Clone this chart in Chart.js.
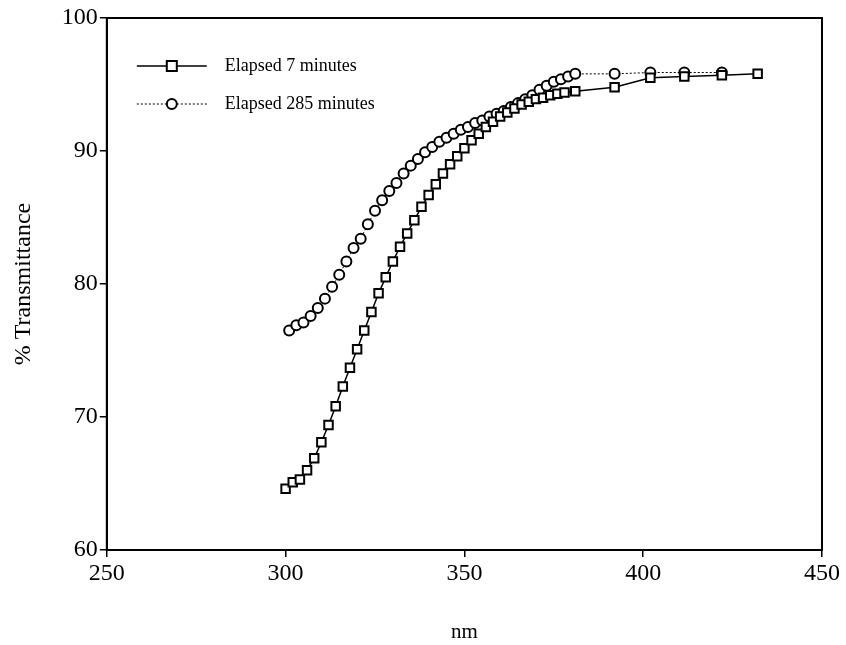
<!DOCTYPE html>
<html lang="en">
<head>
<meta charset="UTF-8">
<title>% Transmittance vs nm</title>
<script src="https://cdn.jsdelivr.net/npm/chart.js@4.4.0/dist/chart.umd.min.js"></script>
<style>
    html, body { margin: 0; padding: 0; background: #fff; }
    #wrap { width: 846px; height: 645px; }
</style>
</head>
<body>
<div id="wrap"><canvas id="chart" width="846" height="645"></canvas></div>

<script>
// Elapsed 7 minutes (squares)
const nm7 = [300, 302, 304, 306, 308, 310, 312, 314, 316, 318,
             320, 322, 324, 326, 328, 330, 332, 334, 336, 338,
             340, 342, 344, 346, 348, 350, 352, 354, 356, 358,
             360, 362, 364, 366, 368, 370, 372, 374, 376, 378,
             381, 392, 402, 411.5, 422, 432];
const trans7 = [64.6, 65.1, 65.3, 66.0, 66.9, 68.1, 69.4, 70.8, 72.3, 73.7,
                75.1, 76.5, 77.9, 79.3, 80.5, 81.7, 82.8, 83.8, 84.8, 85.8,
                86.7, 87.5, 88.3, 89.0, 89.6, 90.2, 90.8, 91.3, 91.8, 92.2,
                92.6, 92.9, 93.2, 93.5, 93.7, 93.9, 94.0, 94.2, 94.3, 94.4,
                94.5, 94.8, 95.5, 95.6, 95.7, 95.8];

// Elapsed 285 minutes (circles)
const nm285 = [301, 303, 305, 307, 309, 311, 313, 315, 317, 319,
               321, 323, 325, 327, 329, 331, 333, 335, 337, 339,
               341, 343, 345, 347, 349, 351, 353, 355, 357, 359,
               361, 363, 365, 367, 369, 371, 373, 375, 377, 379,
               381, 392, 402, 411.5, 422];
const trans285 = [76.5, 76.9, 77.1, 77.6, 78.2, 78.9, 79.8, 80.7, 81.7, 82.7,
                  83.4, 84.5, 85.5, 86.3, 87.0, 87.6, 88.3, 88.9, 89.4, 89.9,
                  90.3, 90.7, 91.0, 91.3, 91.6, 91.8, 92.1, 92.3, 92.6, 92.8,
                  93.0, 93.3, 93.6, 93.9, 94.2, 94.6, 94.9, 95.2, 95.4, 95.6,
                  95.8, 95.8, 95.9, 95.9, 95.9];

const xTicks = [250, 300, 350, 400, 450];
const yTicks = [60, 70, 80, 90, 100];

const seriesLabels = ['Elapsed 7 minutes', 'Elapsed 285 minutes'];

const FONT = '"Liberation Serif", "DejaVu Serif", serif';

function toPoints(xs, ys) {
    return xs.map((x, i) => ({ x: x, y: ys[i] }));
}

// frame around the plot + legend drawn inside the plot area
const framePlugin = {
    id: 'frame',
    afterDraw(chart) {
        const ctx = chart.ctx;
        const a = chart.chartArea;
        ctx.save();
        ctx.strokeStyle = '#000';
        ctx.lineWidth = 2;
        ctx.strokeRect(a.left, a.top, a.right - a.left, a.bottom - a.top);

        // legend
        const ds = chart.data.datasets;
        const x0 = a.left + 30, x1 = a.left + 100;
        ds.forEach((d, i) => {
            const y = a.top + 48 + i * 38;
            ctx.beginPath();
            ctx.setLineDash(d.borderDash || []);
            ctx.lineWidth = d.borderWidth;
            ctx.strokeStyle = '#000';
            ctx.moveTo(x0, y);
            ctx.lineTo(x1, y);
            ctx.stroke();
            ctx.setLineDash([]);
            ctx.fillStyle = '#fff';
            ctx.lineWidth = 2;
            const mx = (x0 + x1) / 2;
            if (d.pointStyle === 'rect') {
                ctx.fillRect(mx - 5, y - 5, 10, 10);
                ctx.strokeRect(mx - 5, y - 5, 10, 10);
            } else {
                ctx.beginPath();
                ctx.arc(mx, y, 5, 0, Math.PI * 2);
                ctx.fill();
                ctx.stroke();
            }
            ctx.fillStyle = '#000';
            ctx.font = '18px ' + FONT;
            ctx.textBaseline = 'middle';
            ctx.textAlign = 'left';
            ctx.fillText(d.label, x1 + 18, y);
        });
        ctx.restore();
    }
};

new Chart(document.getElementById('chart').getContext('2d'), {
    type: 'scatter',
    data: {
        datasets: [{
            label: seriesLabels[0],
            data: toPoints(nm7, trans7),
            showLine: true,
            borderColor: '#000',
            borderWidth: 1.5,
            pointStyle: 'rect',
            pointRadius: 6,
            pointBorderWidth: 2,
            pointBackgroundColor: '#fff',
            pointBorderColor: '#000'
        }, {
            label: seriesLabels[1],
            data: toPoints(nm285, trans285),
            showLine: true,
            borderColor: '#000',
            borderWidth: 1,
            borderDash: [2, 2],
            pointStyle: 'circle',
            pointRadius: 5,
            pointBorderWidth: 2,
            pointBackgroundColor: '#fff',
            pointBorderColor: '#000'
        }]
    },
    options: {
        responsive: false,
        animation: false,
        layout: { padding: { top: 18, right: 24, left: 9, bottom: 0 } },
        plugins: {
            legend: { display: false },
            tooltip: { enabled: false }
        },
        scales: {
            x: {
                type: 'linear',
                min: 250,
                max: 450,
                afterBuildTicks(axis) { axis.ticks = xTicks.map(v => ({ value: v })); },
                grid: { drawOnChartArea: false, tickLength: 7, color: '#000', lineWidth: 1.5 },
                border: { color: '#000', width: 2 },
                ticks: { color: '#000', font: { family: FONT, size: 24 }, padding: 2, maxRotation: 0 },
                title: { display: true, text: 'nm', color: '#000', font: { family: FONT, size: 21 }, padding: { top: 30, bottom: 0 } }
            },
            y: {
                min: 60,
                max: 100,
                afterBuildTicks(axis) { axis.ticks = yTicks.map(v => ({ value: v })); },
                grid: { drawOnChartArea: false, tickLength: 7, color: '#000', lineWidth: 1.5 },
                border: { color: '#000', width: 2 },
                ticks: { color: '#000', font: { family: FONT, size: 24 }, padding: 2 },
                title: { display: true, text: '% Transmittance', color: '#000', font: { family: FONT, size: 24 }, padding: { bottom: 22, top: 0 } }
            }
        }
    },
    plugins: [framePlugin]
});
</script>
</body>
</html>
